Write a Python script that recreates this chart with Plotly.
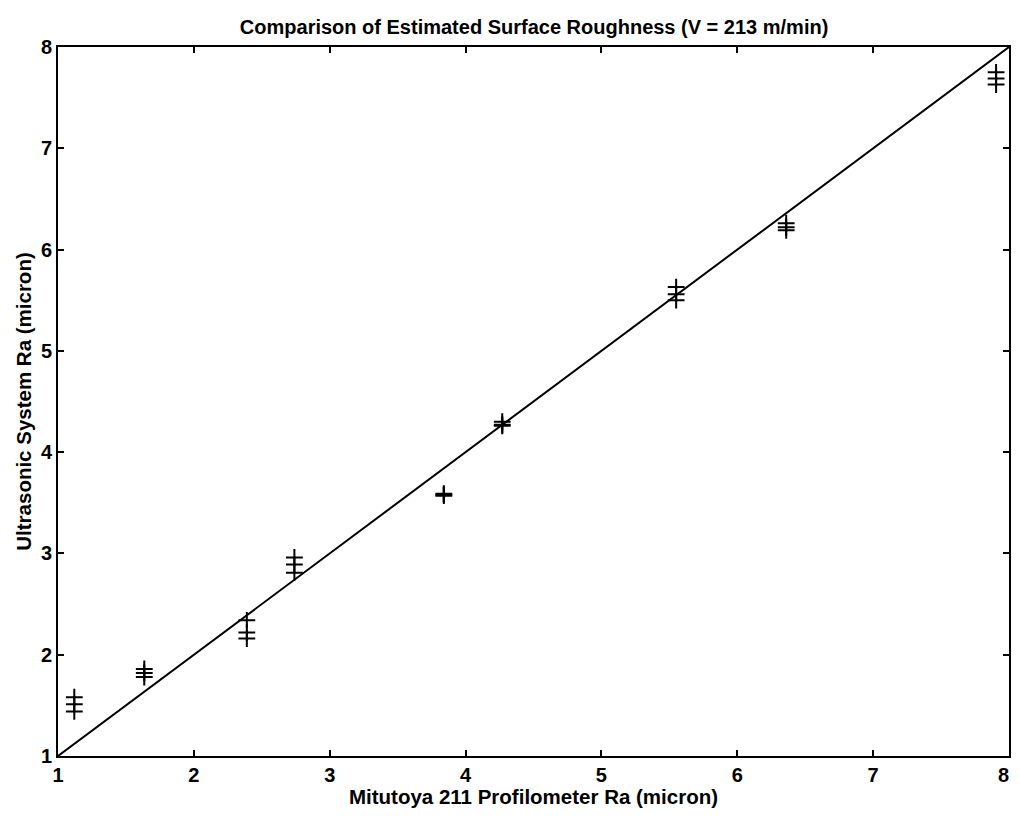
import plotly.graph_objects as go

# Profilometer Ra (x) for each specimen, and three ultrasonic readings each (y)
profilometer_ra = [1.12, 1.635, 2.39, 2.74, 3.84, 4.27, 5.55, 6.36, 7.905]
ultrasonic_run1 = [1.58, 1.86, 2.34, 2.96, 3.59, 4.30, 5.63, 6.26, 7.75]
ultrasonic_run2 = [1.51, 1.82, 2.22, 2.89, 3.58, 4.27, 5.56, 6.22, 7.69]
ultrasonic_run3 = [1.44, 1.78, 2.16, 2.81, 3.57, 4.26, 5.50, 6.19, 7.63]

ref_line = [1, 8]
tick_vals = [1, 2, 3, 4, 5, 6, 7, 8]
x_tick_text = ["1", "2", "3", "4", "5", "6", "7", ""]
last_x_tick = "8"

FONT = "Liberation Sans, Arial, sans-serif"

xs = profilometer_ra * 3
ys = ultrasonic_run1 + ultrasonic_run2 + ultrasonic_run3

fig = go.Figure()
fig.add_trace(go.Scatter(x=ref_line, y=ref_line, mode="lines",
                         line=dict(color="black", width=2), showlegend=False))
fig.add_trace(go.Scatter(x=xs, y=ys, mode="markers",
                         marker=dict(symbol="cross-thin", size=12,
                                     line=dict(color="black", width=2)),
                         showlegend=False))

tick_font = dict(family=FONT, size=20, color="black", weight="bold")
axis_common = dict(range=[1, 8], tickvals=tick_vals, ticks="inside", ticklen=6,
                   tickwidth=1.5, tickcolor="black", showline=True, linecolor="black",
                   linewidth=2, mirror="ticks", showgrid=False, zeroline=False,
                   automargin=False, tickfont=tick_font)

fig.update_layout(
    width=1004, height=800,
    margin=dict(l=50, r=3, t=39, b=52),
    paper_bgcolor="white", plot_bgcolor="white",
    title=dict(text="Comparison of Estimated Surface Roughness (V = 213 m/min)",
               x=0.524, xanchor="center", y=0.976, yanchor="middle",
               font=dict(family=FONT, size=20, color="black", weight="bold")),
    xaxis=dict(**axis_common, ticktext=x_tick_text,
               title=dict(text="Mitutoya 211 Profilometer Ra (micron)", standoff=0,
                          font=dict(family=FONT, size=20.5, color="black", weight="bold"))),
    yaxis=dict(**axis_common,
               title=dict(text="Ultrasonic System Ra (micron)", standoff=4,
                          font=dict(family=FONT, size=20.5, color="black", weight="bold"))),
)

fig.add_annotation(x=tick_vals[-1], xref="x", y=0, yref="paper", text=last_x_tick,
                   showarrow=False, xanchor="right", yanchor="top", xshift=2, yshift=-6,
                   font=tick_font)

fig.write_html("out.html")
